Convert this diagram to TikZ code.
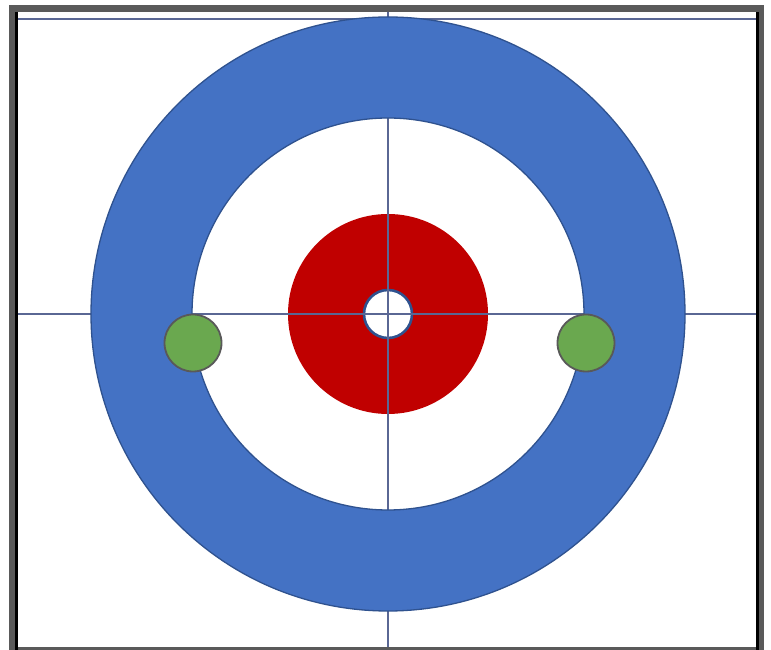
\documentclass[tikz,border=0pt]{standalone}
\usepackage{tikz}
\definecolor{ringblue}{HTML}{4472C4}
\definecolor{ringedge}{HTML}{2F528F}
\definecolor{buttonred}{HTML}{C00000}
\definecolor{stonegreen}{HTML}{6AA84F}
\definecolor{stoneedge}{HTML}{595959}
\definecolor{guideline}{HTML}{5A6794}
\definecolor{framegray}{HTML}{5A5A5A}
\tikzset{
  guide/.style={draw=guideline, line width=1.4},
  stone/.style={circle, fill=stonegreen, draw=stoneedge, line width=1.8, minimum size=57, inner sep=0},
}
\begin{document}
\begin{tikzpicture}[x=1pt,y=1pt]
\useasboundingbox (0,0) rectangle (771,650);
\fill[white] (0,0) rectangle (771,650);
% centre
\coordinate (c) at (388,336);
% red ring and button
\fill[buttonred] (c) circle[radius=100];
\draw[fill=white, draw=ringedge, line width=2.6] (c) circle[radius=24];
% guide lines
\coordinate (hl) at (16,336);
\coordinate (hr) at (757,336);
\coordinate (vt) at (388,642);
\coordinate (vb) at (388,0);
\coordinate (tl) at (16,631);
\coordinate (tr) at (757,631);
\draw[guide] (hl) -- (hr);
\draw[guide] (vt) -- (vb);
\draw[guide, line width=1.8] (tl) -- (tr);
% blue ring
\path[fill=ringblue, even odd rule] (c) circle[radius=297] (c) circle[radius=196];
\draw[ringedge, line width=1.3] (c) circle[radius=297];
\draw[ringedge, line width=1.3] (c) circle[radius=196];
% stones
\node[stone] (s1) at (193,307) {};
\node[stone] (s2) at (586,307) {};
% frame
\draw[framegray, line width=7] (12.5,-3) -- (12.5,641.5) -- (760.5,641.5) -- (760.5,-3);
\draw[framegray, line width=6] (9,0) -- (764,0);
\draw[black, line width=3] (16.5,0) -- (16.5,638);
\draw[black, line width=2.5] (757.3,0) -- (757.3,638);
\end{tikzpicture}
\end{document}
